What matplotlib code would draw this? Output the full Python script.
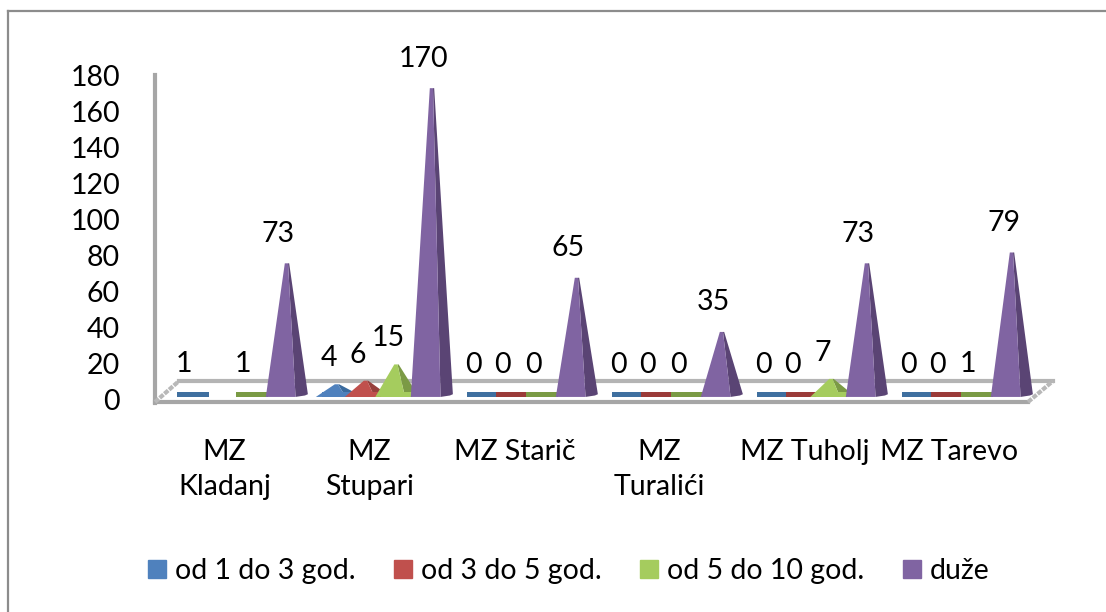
import numpy as np
import matplotlib
matplotlib.use("Agg")
from matplotlib import pyplot as plt
from matplotlib.patches import Patch, Polygon, Rectangle

categories = ["MZ\nKladanj", "MZ\nStupari", "MZ Starič", "MZ\nTuralići", "MZ Tuholj", "MZ Tarevo"]
series_names = ["od 1 do 3 god.", "od 3 do 5 god.", "od 5 do 10 god.", "duže"]
od_1_do_3 = [1, 4, 0, 0, 0, 0]
od_3_do_5 = [np.nan, 6, 0, 0, 0, 0]
od_5_do_10 = [1, 15, 0, 0, 7, 1]
duze = [73, 170, 65, 35, 73, 79]
yticks = list(range(0, 181, 20))

all_series = [od_1_do_3, od_3_do_5, od_5_do_10, duze]
front = ["#4F81BD", "#C0504D", "#A5CC5E", "#8064A2"]
side = ["#3A6A9E", "#97403D", "#7B9A45", "#5A4474"]
flat = ["#3F6F9F", "#9A3A38", "#7A9A44", "#5A4474"]
offsets = [-0.225, -0.025, 0.185, 0.43]

plt.rcParams['font.family'] = ['Lato', 'DejaVu Sans']
plt.rcParams['font.size'] = 20.5

W, H = 1106, 612
fig = plt.figure(figsize=(W/100, H/100), dpi=100)

# outer frame + 3d floor/wall, in pixel coords
bg = fig.add_axes([0, 0, 1, 1])
bg.set_xlim(0, W)
bg.set_ylim(H, 0)
bg.axis("off")
bg.plot([8, 8], [612, 11], color="#8c8c8c", lw=1.6)
bg.plot([8, 1106], [11, 11], color="#8c8c8c", lw=1.6)
bg.plot([155, 155], [75, 403], color="#a6a6a6", lw=3)
bg.plot([179, 1053], [381, 381], color="#b4b4b4", lw=3)
bg.plot([155, 1028], [402, 402], color="#a6a6a6", lw=3)
bg.plot([155, 179], [402, 381], color="#b8b8b8", lw=3, ls=(0, (1.2, 0.3)))
bg.plot([1028, 1053], [402, 381], color="#b8b8b8", lw=3, ls=(0, (1.2, 0.3)))

ax = fig.add_axes([152/W, 1-400/H, 870/W, 325/H])
ax.patch.set_alpha(0)
ax.set_xlim(-0.5, 5.5)
ax.set_ylim(0, 180)
for s in ax.spines.values():
    s.set_visible(False)
ax.set_yticks(yticks)
ax.set_xticks(range(len(categories)))
ax.set_xticklabels(categories, linespacing=1.42)
ax.tick_params(length=0, labelsize=20.5, pad=0)
ax.tick_params(axis="x", pad=28)
ax.tick_params(axis="y", pad=23)
for t in ax.get_xticklabels():
    t.set_verticalalignment("top")

base = 1.7
for i, (vals, off) in enumerate(zip(all_series, offsets)):
    for j, v in enumerate(vals):
        if np.isnan(v):
            continue
        x = j + off
        if v <= 1:
            # flat marks for the empty bars
            ax.add_patch(Rectangle((x-0.105, base), 0.22, 2.6, color=flat[i], zorder=3+i, lw=0))
        else:
            top = base + v + (3 if v < 20 else 1)
            ax.add_patch(Polygon([(x+0.06, base), (x+0.008, top), (x+0.016, top), (x+0.145, base+1.5), (x+0.125, base+0.8)],
                                 closed=True, color=side[i], zorder=3+i, lw=0, clip_on=False))
            ax.add_patch(Polygon([(x-0.145, base), (x-0.014, top), (x+0.008, top), (x+0.06, base)],
                                 closed=True, color=front[i], zorder=4+i, lw=0, clip_on=False))
            if v < 20:
                # small cones sit on a visible foot
                ax.add_patch(Rectangle((x-0.105, base), 0.21, 2.6, color=front[i], zorder=4+i, lw=0))
        ax.annotate(str(v), (x, max(v, 0)), xytext=(-6, 15.5), textcoords="offset points",
                    ha="center", va="bottom", fontsize=20.5, color="black", zorder=10)

handles = [Patch(color=c) for c in front]
fig.legend(handles, series_names, loc="center", bbox_to_anchor=(569/W, 1-571/H), ncol=4, frameon=False,
           fontsize=20.5, handlelength=0.63, handleheight=0.63, handletextpad=0.32, columnspacing=1.35)

fig.savefig("out.png", dpi=100)
